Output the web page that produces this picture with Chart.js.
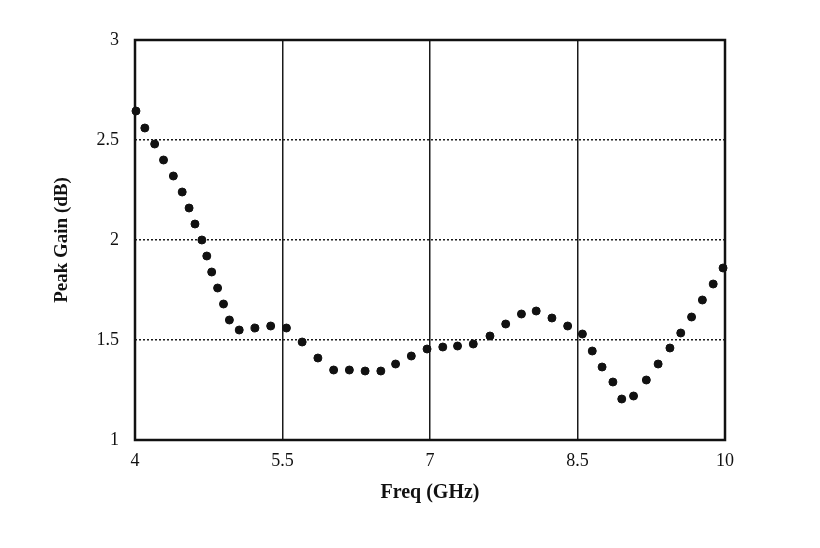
<!DOCTYPE html>
<html>
<head>
<meta charset="utf-8">
<script src="https://cdn.jsdelivr.net/npm/chart.js@4/dist/chart.umd.min.js"></script>
<style>
  body { margin: 0; background: #fff; }
  #wrap { width: 820px; height: 548px; }
</style>
</head>
<body>
<div id="wrap"><canvas id="myChart" width="820" height="548"></canvas></div>
<script>
// frequency (GHz) and peak gain (dB)
const freqs = [4.01, 4.10, 4.20, 4.29, 4.39, 4.48, 4.55, 4.61, 4.68, 4.73, 4.78, 4.84, 4.90, 4.96,
  5.06, 5.22, 5.38, 5.54, 5.70, 5.86, 6.02, 6.18, 6.34, 6.50, 6.65, 6.81, 6.97,
  7.13, 7.28, 7.44, 7.61, 7.77, 7.93, 8.08, 8.24, 8.40, 8.55, 8.65, 8.75, 8.86, 8.95,
  9.07, 9.20, 9.32, 9.44, 9.55, 9.66, 9.77, 9.88, 9.98];
const gains = [2.645, 2.56, 2.48, 2.40, 2.32, 2.24, 2.16, 2.08, 2.00, 1.92, 1.84, 1.76, 1.68, 1.60,
  1.55, 1.56, 1.57, 1.56, 1.49, 1.41, 1.35, 1.35, 1.345, 1.345, 1.38, 1.42, 1.455,
  1.465, 1.47, 1.48, 1.52, 1.58, 1.63, 1.645, 1.61, 1.57, 1.53, 1.445, 1.365, 1.29, 1.205,
  1.22, 1.30, 1.38, 1.46, 1.535, 1.615, 1.70, 1.78, 1.86];

const xTicks = [4, 5.5, 7, 8.5, 10];
const yTicks = [1, 1.5, 2, 2.5, 3];

const fontFam = "'Liberation Serif', 'DejaVu Serif', serif";

const points = freqs.map((f, i) => ({ x: f, y: gains[i] }));

// black frame round the plot area
const boxPlugin = {
  id: "box",
  beforeDatasetsDraw(chart) {
    const a = chart.chartArea;
    const c = chart.ctx;
    c.save();
    c.strokeStyle = "#111";
    c.lineWidth = 2.5;
    c.strokeRect(a.left, a.top, a.right - a.left, a.bottom - a.top);
    c.restore();
  },
};

var ctx = document.getElementById("myChart").getContext("2d");
var myChart = new Chart(ctx, {
  type: "scatter",
  data: {
    datasets: [
      {
        data: points,
        backgroundColor: "#111",
        borderColor: "#111",
        pointRadius: 4,
        pointHoverRadius: 4,
        clip: false,
      },
    ],
  },
  options: {
    responsive: false,
    animation: false,
    layout: { padding: { left: 50, right: 95, top: 40, bottom: 38 } },
    plugins: { legend: { display: false }, tooltip: { enabled: false } },
    scales: {
      x: {
        type: "linear",
        min: 4,
        max: 10,
        afterBuildTicks: (s) => { s.ticks = xTicks.map((v) => ({ value: v })); },
        afterFit: (s) => { s.height = 70; },
        ticks: {
          color: "#111",
          padding: 10,
          font: { family: fontFam, size: 18 },
          callback: (v) => String(v),
        },
        grid: { color: "#1a1a1a", lineWidth: 1.5, drawTicks: false },
        border: { display: false },
        title: {
          display: true,
          text: "Freq (GHz)",
          color: "#111",
          padding: { top: 0, bottom: 5 },
          font: { family: fontFam, size: 20, weight: "bold" },
        },
      },
      y: {
        min: 1,
        max: 3,
        afterBuildTicks: (s) => { s.ticks = yTicks.map((v) => ({ value: v })); },
        afterFit: (s) => { s.width = 85; },
        ticks: {
          color: "#111",
          padding: 16,
          font: { family: fontFam, size: 18 },
          callback: (v) => String(v),
        },
        grid: { color: "#1a1a1a", lineWidth: 1.5, drawTicks: false },
        border: { display: false, dash: [2, 2] },
        title: {
          display: true,
          text: "Peak Gain (dB)",
          color: "#111",
          padding: { top: 1, bottom: 0 },
          font: { family: fontFam, size: 19, weight: "bold" },
        },
      },
    },
  },
  plugins: [boxPlugin],
});
</script>
</body>
</html>
